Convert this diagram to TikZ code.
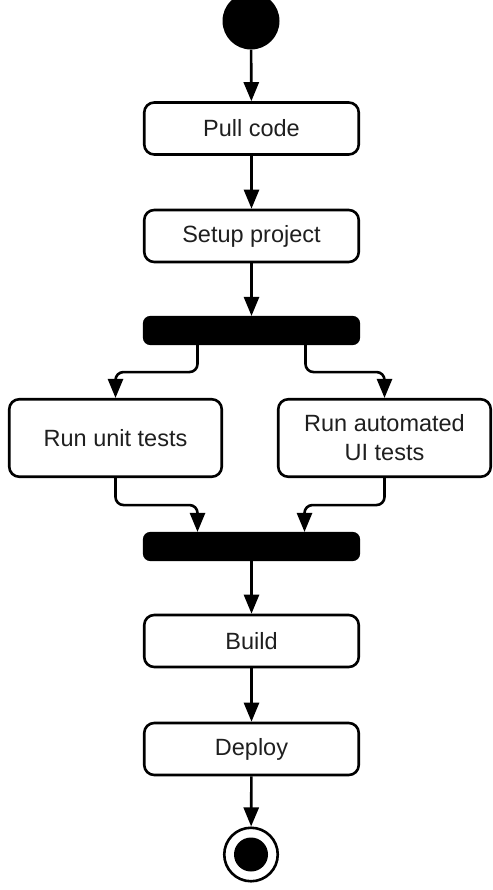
\documentclass[tikz,border=0pt]{standalone}
\usepackage{fontspec}
\setmainfont{Liberation Sans}
\usetikzlibrary{arrows.meta}

\tikzset{
    action/.style={draw, line width=2.6pt, rounded corners=10pt, fill=white,
        minimum width=214.5pt, minimum height=52pt, align=center,
        text=black!88, font=\fontsize{23.5}{29}\selectfont},
    bar/.style={draw, fill=black, line width=2.6pt, rounded corners=6pt,
        minimum width=214.5pt, minimum height=26.5pt, inner sep=0pt},
    startnode/.style={circle, fill=black, minimum size=57pt, inner sep=0pt},
    endnode/.style={circle, draw, line width=2.6pt, minimum size=53.5pt, inner sep=0pt},
    flow/.style={line width=2.6pt, -{Triangle[length=19pt, width=15pt]}}
}

\begin{document}
\begin{tikzpicture}[x=1pt, y=-1pt]
        \useasboundingbox (0,0) rectangle (492,890);

        \node[startnode] (start) at (251,21) {};
        \node[action] (pull) at (251.5,128.5) {Pull code};
        \node[action] (setup) at (251.5,236) {Setup project};
        \node[bar] (fork) at (251.5,330.5) {};

        \node[action, minimum width=212.5pt, minimum height=77.5pt] (unit) at (115.5,438) {Run unit tests};
        \node[action, minimum width=212.5pt, minimum height=77.5pt] (ui) at (384.5,438) {Run automated\\UI tests};

        \node[bar] (join) at (251.5,546.5) {};
        \node[action] (build) at (251.5,641) {Build};
        \node[action] (deploy) at (251.5,749) {Deploy};

        \node[endnode] (stop) at (251,854.5) {};
        \node[circle, fill=black, minimum size=34pt, inner sep=0pt] (stopdot) at (stop) {};

        \draw[flow] (start) -- (pull);
        \draw[flow] (pull) -- (setup);
        \draw[flow] (setup) -- (fork);

        \draw[flow, rounded corners=8pt] ([xshift=-54pt]fork.south) -- ++(0,27) -| (unit.north);
        \draw[flow, rounded corners=8pt] ([xshift=54pt]fork.south) -- ++(0,27) -| (ui.north);

        \draw[flow, rounded corners=8pt] (unit.south) -- ++(0,27) -| ([xshift=-54pt]join.north);
        \draw[flow, rounded corners=8pt] (ui.south) -- ++(0,27) -| ([xshift=53pt]join.north);

        \draw[flow] (join) -- (build);
        \draw[flow] (build) -- (deploy);
        \draw[flow] (deploy) -- (stop);
    \end{tikzpicture}
\end{document}
